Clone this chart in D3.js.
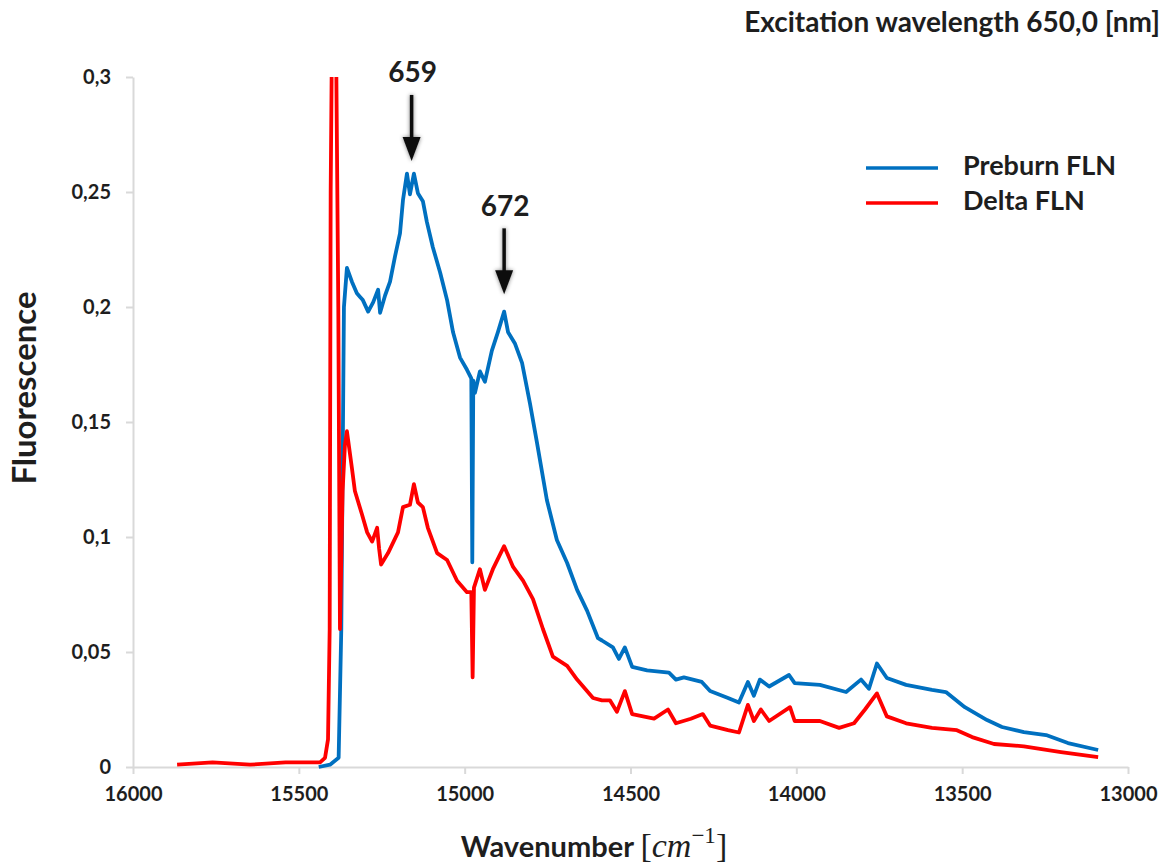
<!DOCTYPE html>
<html lang="en">
<head>
<meta charset="utf-8">
<title>FLN spectrum</title>
<script src="https://cdn.jsdelivr.net/npm/d3@7"></script>
<style>
  body { margin: 0; background: #fff; }
  svg text { font-family: Lato, "Open Sans", sans-serif; font-weight: bold; fill: #1e1e1e; }
  .axis path, .axis line { stroke: #d9d9d9; stroke-width: 2px; }
</style>
</head>
<body>
<div id="chart"></div>
<script>
// x ticks and y ticks
var xTicks = [16000, 15500, 15000, 14500, 14000, 13500, 13000];
var yTicks = [0, 0.05, 0.1, 0.15, 0.2, 0.25, 0.3];

// Preburn FLN (blue), wavenumber [cm-1] and fluorescence
var preburnWn = [15440, 15406, 15380, 15372, 15364, 15355, 15340, 15325, 15316, 15307, 15291, 15276, 15261, 15255, 15240,
  15225, 15210, 15195, 15186, 15174, 15165, 15153, 15141, 15126, 15114, 15096, 15074, 15053, 15035, 15014,
  14993, 14980, 14977, 14974, 14969, 14954, 14939, 14918, 14900, 14881, 14869, 14848, 14827, 14803, 14782,
  14752, 14722, 14691, 14661, 14631, 14598, 14586, 14553, 14535, 14517, 14495, 14450, 14384, 14363, 14339,
  14285, 14260, 14206, 14173, 14146, 14128, 14110, 14082, 14022, 14005, 13929, 13850, 13805, 13781, 13757,
  13727, 13669, 13591, 13549, 13492, 13425, 13380, 13314, 13247, 13181, 13090];
var preburnVal = [0.000, 0.001, 0.004, 0.06, 0.20, 0.217, 0.211, 0.206, 0.2045, 0.203, 0.198, 0.202, 0.2075, 0.1975, 0.205,
  0.211, 0.222, 0.232, 0.2465, 0.258, 0.249, 0.258, 0.2495, 0.246, 0.237, 0.226, 0.215, 0.203, 0.189, 0.178,
  0.1727, 0.169, 0.089, 0.168, 0.1627, 0.172, 0.1675, 0.181, 0.189, 0.198, 0.189, 0.184, 0.1757, 0.158, 0.141,
  0.116, 0.0987, 0.0887, 0.077, 0.068, 0.056, 0.055, 0.052, 0.047, 0.052, 0.0435, 0.042, 0.041, 0.038, 0.039,
  0.037, 0.033, 0.030, 0.028, 0.037, 0.031, 0.038, 0.035, 0.040, 0.0365, 0.0357, 0.0326, 0.038, 0.034, 0.045,
  0.0387, 0.0357, 0.0335, 0.0326, 0.026, 0.0204, 0.0174, 0.0152, 0.0139, 0.0104, 0.0074];

// Delta FLN (red)
var deltaWn = [15867, 15760, 15647, 15540, 15436, 15421, 15412, 15407, 15404, 15400, 15388, 15381, 15376, 15368, 15361,
  15355, 15340, 15331, 15310, 15294, 15279, 15264, 15258, 15252, 15231, 15201, 15186, 15165, 15153, 15141,
  15126, 15111, 15083, 15053, 15023, 14993, 14980, 14976, 14972, 14954, 14939, 14915, 14881, 14854, 14824,
  14794, 14764, 14734, 14691, 14661, 14613, 14586, 14562, 14541, 14517, 14495, 14429, 14387, 14363, 14318,
  14282, 14260, 14206, 14173, 14146, 14128, 14107, 14082, 14019, 14005, 13929, 13871, 13826, 13793, 13757,
  13727, 13669, 13591, 13516, 13470, 13404, 13314, 13202, 13090];
var deltaVal = [0.001, 0.002, 0.001, 0.002, 0.002, 0.004, 0.012, 0.06, 0.25, 0.32, 0.32, 0.2, 0.060, 0.12, 0.14,
  0.146, 0.130, 0.120, 0.110, 0.102, 0.098, 0.104, 0.095, 0.088, 0.093, 0.102, 0.113, 0.114, 0.123, 0.115,
  0.113, 0.104, 0.093, 0.090, 0.081, 0.076, 0.076, 0.039, 0.078, 0.086, 0.077, 0.086, 0.096, 0.087, 0.081,
  0.073, 0.060, 0.048, 0.044, 0.038, 0.030, 0.029, 0.029, 0.024, 0.033, 0.023, 0.021, 0.025, 0.019, 0.021,
  0.023, 0.018, 0.016, 0.015, 0.027, 0.020, 0.025, 0.020, 0.026, 0.020, 0.020, 0.017, 0.019, 0.025, 0.032,
  0.022, 0.019, 0.017, 0.016, 0.013, 0.010, 0.009, 0.0065, 0.0043];

// peak annotations
var peakWn = [15160, 14881];
var peakTip = [0.2635, 0.2055];
var peakLabel = ["659", "672"];

var seriesNames = ["Preburn FLN", "Delta FLN"];
var seriesColors = ["#0070c0", "#ff0000"];

var width = 1170, height = 864;
var margin = {top: 77, right: 42, bottom: 97, left: 133};

var x = d3.scaleLinear().domain([16000, 13000]).range([margin.left, width - margin.right]);
var y = d3.scaleLinear().domain([0, 0.3]).range([height - margin.bottom, margin.top]);

var svg = d3.select("#chart").append("svg")
  .attr("width", width)
  .attr("height", height);

var defs = svg.append("defs");
defs.append("clipPath").attr("id", "plotclip")
  .append("rect")
  .attr("x", margin.left - 5).attr("y", margin.top)
  .attr("width", width - margin.left - margin.right + 10)
  .attr("height", height - margin.top - margin.bottom + 5);

var shadow = defs.append("filter").attr("id", "soft")
  .attr("x", "-50%").attr("y", "-50%").attr("width", "200%").attr("height", "200%");
shadow.append("feGaussianBlur").attr("in", "SourceAlpha").attr("stdDeviation", 2).attr("result", "b");
shadow.append("feComponentTransfer").append("feFuncA").attr("type", "linear").attr("slope", 0.5);
var merge = shadow.append("feMerge");
merge.append("feMergeNode");
merge.append("feMergeNode").attr("in", "SourceGraphic");

// axes
var fmt = function(d) { return String(+d.toFixed(2)).replace(".", ","); };

var yAxis = svg.append("g")
  .attr("class", "axis")
  .attr("transform", "translate(" + margin.left + ",0)")
  .call(d3.axisLeft(y).tickValues(yTicks).tickFormat(fmt).tickSize(7).tickSizeOuter(0).tickPadding(15));

var xAxis = svg.append("g")
  .attr("class", "axis")
  .attr("transform", "translate(0," + (height - margin.bottom) + ")")
  .call(d3.axisBottom(x).tickValues(xTicks).tickFormat(d3.format("d")).tickSize(7).tickSizeOuter(0).tickPadding(13));

svg.selectAll(".axis text")
  .style("font-size", "20px")
  .style("font-family", "Lato, sans-serif")
  .style("font-weight", "bold")
  .attr("fill", "#1e1e1e");

// lines
var line = d3.line()
  .x(function(d) { return x(d[0]); })
  .y(function(d) { return y(d[1]); });

var series = [
  {name: seriesNames[0], color: seriesColors[0], pts: d3.zip(preburnWn, preburnVal)},
  {name: seriesNames[1], color: seriesColors[1], pts: d3.zip(deltaWn, deltaVal)}
];

svg.append("g")
  .attr("clip-path", "url(#plotclip)")
  .selectAll("path")
  .data(series)
  .enter()
  .append("path")
  .attr("d", function(d) { return line(d.pts); })
  .attr("fill", "none")
  .attr("stroke", function(d) { return d.color; })
  .attr("stroke-width", 3.8)
  .attr("stroke-linejoin", "round");

// arrows and labels
var arrows = svg.append("g").attr("filter", "url(#soft)");
peakWn.forEach(function(wn, i) {
  var ax = x(wn), tip = y(peakTip[i]);
  arrows.append("line")
    .attr("x1", ax).attr("x2", ax)
    .attr("y1", tip - 66).attr("y2", tip - 20)
    .attr("stroke", "#111").attr("stroke-width", 3.5);
  arrows.append("path")
    .attr("d", "M" + (ax - 9) + "," + (tip - 24) + "L" + (ax + 9) + "," + (tip - 24) + "L" + ax + "," + tip + "Z")
    .attr("fill", "#111");
  svg.append("text")
    .attr("x", ax + 1).attr("y", tip - 86)
    .attr("text-anchor", "middle")
    .attr("dominant-baseline", "middle")
    .style("font-size", "28px")
    .text(peakLabel[i]);
});

// title
svg.append("text")
  .attr("x", 1160).attr("y", 25)
  .attr("text-anchor", "end")
  .attr("dominant-baseline", "middle")
  .style("font-size", "28px")
  .text("Excitation wavelength 650,0 [nm]");

// y axis title
svg.append("text")
  .attr("transform", "translate(28,388) rotate(-90)")
  .attr("text-anchor", "middle")
  .attr("dominant-baseline", "middle")
  .style("font-size", "33px")
  .text("Fluorescence");

// x axis title
var xt = svg.append("text")
  .attr("x", 594).attr("y", 857)
  .attr("text-anchor", "middle")
  .style("font-size", "29px");
xt.append("tspan").text("Wavenumber ");
xt.append("tspan").style("font-family", "'Liberation Serif', serif").style("font-weight", "normal").style("font-size", "34px").text("[");
xt.append("tspan").style("font-family", "'Liberation Serif', serif").style("font-style", "italic").style("font-weight", "normal").style("font-size", "34px").text("cm");
xt.append("tspan").style("font-family", "'Liberation Serif', serif").style("font-weight", "normal").style("font-size", "23px").attr("dy", -14).text("\u22121");
xt.append("tspan").style("font-family", "'Liberation Serif', serif").style("font-weight", "normal").style("font-size", "34px").attr("dy", 14).text("]");

// legend
var legend = svg.append("g").selectAll("g")
  .data(series)
  .enter()
  .append("g")
  .attr("transform", function(d, i) { return "translate(866," + (168 + i * 35) + ")"; });

legend.append("line")
  .attr("x1", 0).attr("x2", 72)
  .attr("stroke", function(d) { return d.color; })
  .attr("stroke-width", 3.5);

legend.append("text")
  .attr("x", 97)
  .attr("dominant-baseline", "middle")
  .style("font-size", "27px")
  .text(function(d) { return d.name; });
</script>
</body>
</html>
